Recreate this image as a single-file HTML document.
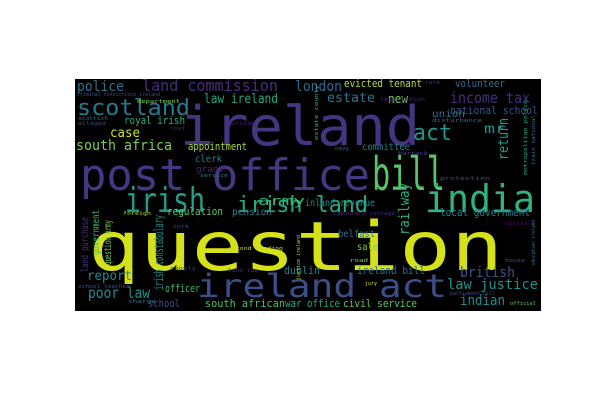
<!DOCTYPE html>
<html><head><meta charset="utf-8"><style>
html,body{margin:0;padding:0;background:#fff;width:600px;height:400px;overflow:hidden}
svg text{font-family:"DejaVu Sans Mono","Liberation Mono",monospace}
</style></head><body>
<svg width="600" height="400" viewBox="0 0 600 400">
<defs><clipPath id="cb"><rect x="75" y="79" width="466" height="232"/></clipPath></defs>
<rect x="75" y="79" width="466" height="232" fill="#000"/>
<g id="words" clip-path="url(#cb)"></g>
</svg>
<script>
const words = ["question","ireland","post office","bill","india","irish","irish land","ireland act","scotland","police","land commission","london","evicted tenant","volunteer","new","estate","income tax","national school","law ireland","royal irish","case","south africa","appointment","clerk","grant","act","mr","union","committee","army","regulation","pension","inland revenue","local government","belfast","sale","dublin","ireland bill","british","law justice","indian","report","poor law","officer","school","south african","war office","civil service","criminal convictions ireland","department","scottish","alleged","cost","prison","service","foreign","cork","second reading","supply","land law","school teacher","charge","labourers cottage","military","road","jury","house","official","legislation","disturbance","navy","barrack","protection","rate","parliament bill","return","railway","irish constabulary","land purchase","government","question army","estate county","metropolitan police","train national","education ireland","justice ireland"];
const xs = [88,180,80,372,425,125,237,197,77,77,142,295,344,455,388,327,450,450,204,124,110,76,188,195,196,413,484,432,362,258,167,232,305,440,338,357,284,357,460,447,460,87,88,165,148,205,285,343,77,137,78,78,170,230,200,123,173,228,170,228,78,128,333,505,350,365,505,510,380,432,335,398,440,425,450,508,409,163,88,99,111,318,527,535,535,300];
const ys = [270,145,190,190,212,212,212,297,115,91,91,91,87,87,103,102,103,114,103,124,137,150,150,162,172,140,133,117,150,205,215,215,206,216,237,250,274,274,277,289,305,280,298,292,307,307,307,307,96,103,120,125,130,125,177,215,228,250,270,272,288,303,215,225,262,285,262,305,101,122,150,155,180,84,295,160,235,290,272,255,265,140,175,165,265,280];
const sizes = [68,54,44,46,38,34,22,32,22,14,16,14,11,11,12,13,15,11,13,11,13,14,11,10,9,22,13,10,10,12,11,10,10,11,10,10,11,11,14,14,14,13,15,11,11,11,11,11,5,5,5,5,5,5,5,5,5,5,5,5,5,5,5,5,5,5,5,5,5,5,5,5,5,5,5,14,14,12,10,10,10,5,5,5,5,5];
const widths = [415,240,290,73,110,80,131,250,113,47,136,47,78,50,20,48,80,88,74,61,30,96,59,27,28,39,22,33,48,47,56,40,70,90,37,21,36,68,55,91,45,45,62,35,32,80,55,74,83,43,30,28,16,26,28,28,16,55,26,30,52,28,62,30,18,12,20,26,45,50,14,30,50,15,45,42,52,75,55,45,45,55,75,50,45,45];
const colors = ["#d5e21a","#453581","#453781","#54c568","#2fb47c","#1f9e89","#25ab82","#3d4d8a","#2a788e","#2c718e","#472d7b","#31688e","#b8de29","#2d708e","#6ccd5a","#2a788e","#46307e","#3b528b","#22a884","#2ab07f","#d0e11c","#7ad151","#a5db36","#27808e","#482475","#1f978b","#20928c","#2c728e","#287d8e","#35b779","#5ec962","#26828e","#23898e","#277f8e","#2a768e","#7ad151","#26828e","#2c728e","#3b528b","#21918c","#238a8d","#23898e","#21918c","#35b779","#3e4a89","#4ac16d","#22a884","#5ec962","#3b528b","#7ad151","#2c728e","#3e4a89","#46327e","#482475","#2a788e","#addc30","#3b528b","#bddf26","#433e85","#482878","#3b528b","#2c728e","#46307e","#471063","#7ad151","#d2e21b","#3b528b","#6ccd5a","#482878","#31688e","#2a788e","#3e4989","#3b528b","#46307e","#3e4a89","#1f9e89","#29af7f","#21918c","#46327e","#38b977","#7ad151","#2fb47c","#22a884","#2c728e","#2a788e","#addc30"];
const vert = [0,0,0,0,0,0,0,0,0,0,0,0,0,0,0,0,0,0,0,0,0,0,0,0,0,0,0,0,0,0,0,0,0,0,0,0,0,0,0,0,0,0,0,0,0,0,0,0,0,0,0,0,0,0,0,0,0,0,0,0,0,0,0,0,0,0,0,0,0,0,0,0,0,0,0,1,1,1,1,1,1,1,1,1,1,1];
const g = document.getElementById('words');
const NS = 'http://www.w3.org/2000/svg';
for (let i = 0; i < words.length; i++) {
  const t = document.createElementNS(NS, 'text');
  t.textContent = words[i];
  t.setAttribute('font-size', sizes[i]);
  t.setAttribute('fill', colors[i]);
  t.setAttribute('textLength', widths[i]);
  t.setAttribute('lengthAdjust', 'spacingAndGlyphs');
  if (vert[i]) {
    t.setAttribute('x', 0); t.setAttribute('y', 0);
    t.setAttribute('transform', 'translate(' + xs[i] + ',' + ys[i] + ') rotate(-90)');
  } else {
    t.setAttribute('x', xs[i]); t.setAttribute('y', ys[i]);
  }
  
  
  g.appendChild(t);
}
</script>
</body></html>
